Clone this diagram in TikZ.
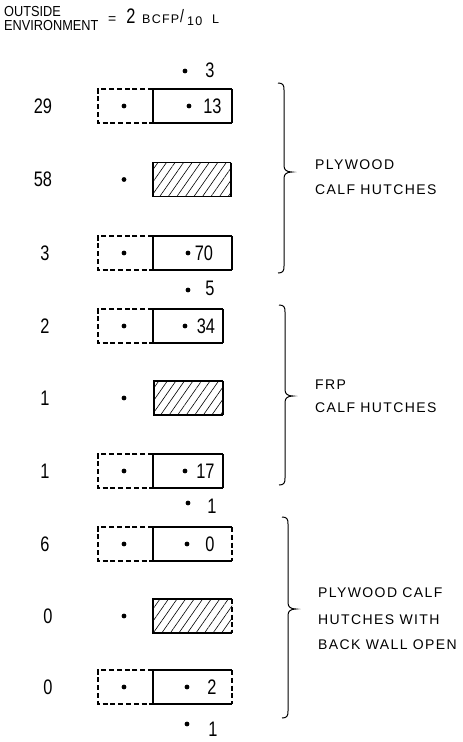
\documentclass[tikz,border=0pt]{standalone}
\usepackage{fontspec}
\setmainfont{Liberation Sans}
\newfontfamily\numfont[FakeStretch=0.78]{Liberation Sans}
\newfontfamily\labfont[LetterSpace=10]{Liberation Sans}
\newfontfamily\hdfont[FakeStretch=0.88]{Liberation Sans}
\usetikzlibrary{patterns.meta}
\tikzset{
  boxline/.style={line width=1.1pt},
  dashline/.style={line width=1.1pt, dash pattern=on 5pt off 2.8pt},
  dotnode/.style={circle, fill=black, inner sep=0pt, minimum size=4.8pt},
  num/.style={font=\numfont\fontsize{21}{21}\selectfont, inner sep=0pt},
  lab/.style={font=\labfont\fontsize{14}{14}\selectfont, inner sep=0pt, anchor=west},
  hd/.style={font=\hdfont\fontsize{14.5}{14.5}\selectfont, inner sep=0pt, anchor=west},
  small/.style={font=\labfont\fontsize{12.5}{12.5}\selectfont, inner sep=0pt, anchor=west},
  braceline/.style={line width=1pt},
  hatch/.style={pattern={Lines[angle=55,distance=7pt,line width=0.6pt]}}
}
\newcommand{\pairbox}[3]{%
  \draw[dashline] (153,#1-17) -- (98,#1-17) -- (98,#1+17) -- (153,#1+17);
  \draw[boxline] (#2,#1-17) -- (153,#1-17) -- (153,#1+17) -- (#2,#1+17);
  \draw[boxline,#3] (#2,#1-17) -- (#2,#1+17);
}
\newcommand{\hatchbox}[4]{%
  \fill[hatch] (#2,#1-17) rectangle (#3,#1+17);
  \draw[boxline] (#3,#1-17) -- (#2,#1-17) -- (#2,#1+17) -- (#3,#1+17);
  \draw[boxline,#4] (#3,#1-17) -- (#3,#1+17);
}
\newcommand{\hbrace}[4]{%
  \draw[braceline] (#1-6,#2) .. controls (#1-1,#2) and (#1,#2+2) .. (#1,#2+7)
    -- (#1,#3-6) .. controls (#1,#3-2) and (#1+3,#3) .. (#1+8,#3)
    .. controls (#1+3,#3) and (#1,#3+2) .. (#1,#3+6)
    -- (#1,#4-7) .. controls (#1,#4-2) and (#1-1,#4) .. (#1-6,#4);
}
\begin{document}
\begin{tikzpicture}[x=1pt,y=-1pt]
\useasboundingbox (0,0) rectangle (463,742);
% header
\node[hd] (h1) at (4,12) {OUTSIDE};
\node[hd] (h2) at (4,25.5) {ENVIRONMENT};
\node[lab] (heq) at (108,20) {=};
\node[num] (h2v) at (131,16) {2};
\node[small] (hb) at (142,19) {BCFP};
\node[num, font=\numfont\fontsize{18}{18}\selectfont] (hs) at (182,16.5) {/};
\node[small] (hten) at (187,21) {10};
\node[small] (hl) at (212,19) {L};

% group 1
\pairbox{106}{232}{solid}
\hatchbox{179.5}{153}{231}{solid}
\pairbox{253}{232}{solid}
% group 2
\pairbox{326}{223}{solid}
\hatchbox{398}{154}{223}{solid}
\pairbox{471}{223}{solid}
% group 3
\pairbox{544}{232}{dashline}
\hatchbox{616}{153}{232}{dashline}
\pairbox{687}{232}{dashline}

% left values
\node[num] (n1) at (43,106) {29};
\node[num] (n2) at (43,179.5) {58};
\node[num] (n3) at (45,253) {3};
\node[num] (n4) at (45,326) {2};
\node[num] (n5) at (45,398) {1};
\node[num] (n6) at (45,471) {1};
\node[num] (n7) at (45,544) {6};
\node[num] (n8) at (48,616) {0};
\node[num] (n9) at (48,687) {0};

% left dots
\foreach \i/\y in {1/106,2/179.5,3/253,4/326,5/398,6/471,7/544,8/616,9/687}
  \node[dotnode] (ld\i) at (124,\y) {};

% right dots and values
\node[dotnode] (rd1) at (189,106) {};
\node[num] (rv1) at (212.5,106) {13};
\node[dotnode] (rd3) at (188,253) {};
\node[num] (rv3) at (204,253) {70};
\node[dotnode] (rd4) at (185,326) {};
\node[num] (rv4) at (206,326) {34};
\node[dotnode] (rd6) at (185,471) {};
\node[num] (rv6) at (205.5,471) {17};
\node[dotnode] (rd7) at (187,544) {};
\node[num] (rv7) at (210,544) {0};
\node[dotnode] (rd9) at (187,687) {};
\node[num] (rv9) at (212,687) {2};

% between dots
\node[dotnode] (bd0) at (185,71) {};
\node[num] (bv0) at (210,70.5) {3};
\node[dotnode] (bd1) at (188,290) {};
\node[num] (bv1) at (210,288) {5};
\node[dotnode] (bd2) at (188,503) {};
\node[num] (bv2) at (212,506) {1};
\node[dotnode] (bd3) at (187,724) {};
\node[num] (bv3) at (213,729.5) {1};

% braces
\hbrace{284}{83}{172}{273}
\hbrace{285}{305}{396}{485}
\hbrace{288}{517}{609}{718}

% labels
\node[lab] (t1a) at (315,165) {PLYWOOD};
\node[lab] (t1b) at (315,190) {CALF HUTCHES};
\node[lab] (t2a) at (315,385) {FRP};
\node[lab] (t2b) at (315,408) {CALF HUTCHES};
\node[lab] (t3a) at (318,593) {PLYWOOD CALF};
\node[lab] (t3b) at (318,620) {HUTCHES WITH};
\node[lab] (t3c) at (318,645) {BACK WALL OPEN};
\end{tikzpicture}
\end{document}
